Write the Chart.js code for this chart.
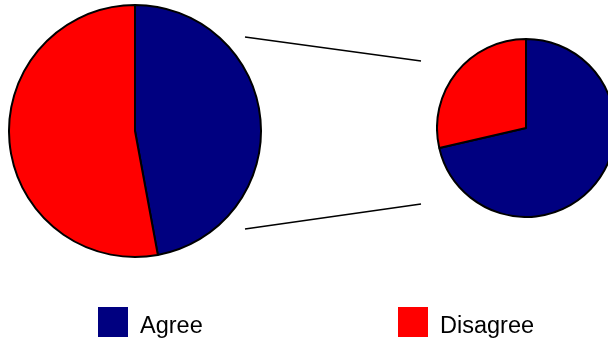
<!DOCTYPE html>
<html>
<head>
<meta charset="utf-8">
<script src="https://cdn.jsdelivr.net/npm/chart.js@4"></script>
<style>
  html, body { margin: 0; padding: 0; background: #fff; overflow: hidden; }
  #wrap { position: relative; width: 608px; height: 341px; overflow: hidden; }
  #mainChart { position: absolute; left: 0; top: 0; }
  #detailChart { position: absolute; left: 436px; top: 38px; }
</style>
</head>
<body>
<div id="wrap">
  <canvas id="mainChart" width="608" height="341"></canvas>
  <canvas id="detailChart" width="180" height="180"></canvas>
</div>
<script>
const labels = ["Agree", "Disagree"];
const mainValues = [47.1, 52.9];
const detailValues = [71.4, 28.6];
const sliceColors = ["#000080", "#FF0000"];

// connector lines + legend drawn on the main canvas
const extrasPlugin = {
    id: "extras",
    afterDraw(chart) {
        const ctx = chart.ctx;
        ctx.save();
        ctx.strokeStyle = "#000";
        ctx.lineWidth = 1.7;
        ctx.beginPath();
        ctx.moveTo(245, 37);
        ctx.lineTo(421, 61);
        ctx.moveTo(245, 229);
        ctx.lineTo(421, 204);
        ctx.stroke();

        ctx.font = "23.5px 'Liberation Sans', Arial, sans-serif";
        ctx.textBaseline = "alphabetic";
        const boxX = [98, 398];
        labels.forEach((label, i) => {
            ctx.fillStyle = sliceColors[i];
            ctx.fillRect(boxX[i], 307, 30, 30);
            ctx.fillStyle = "#000";
            ctx.fillText(label, boxX[i] + 42, 333);
        });
        ctx.restore();
    }
};

const baseOptions = {
    responsive: false,
    animation: false,
    plugins: {
        legend: { display: false },
        tooltip: { enabled: false }
    }
};

const mainChart = new Chart(
    document.getElementById("mainChart"),
    {
        type: "pie",
        data: {
            labels: labels,
            datasets: [{
                data: mainValues,
                backgroundColor: sliceColors,
                borderColor: "#000",
                borderWidth: 2
            }]
        },
        options: {
            ...baseOptions,
            layout: { padding: { left: 8, top: 4, right: 346, bottom: 83 } }
        },
        plugins: [extrasPlugin]
    }
);

const detailChart = new Chart(
    document.getElementById("detailChart"),
    {
        type: "pie",
        data: {
            labels: labels,
            datasets: [{
                data: detailValues,
                backgroundColor: sliceColors,
                borderColor: "#000",
                borderWidth: 2
            }]
        },
        options: baseOptions
    }
);
</script>
</body>
</html>
